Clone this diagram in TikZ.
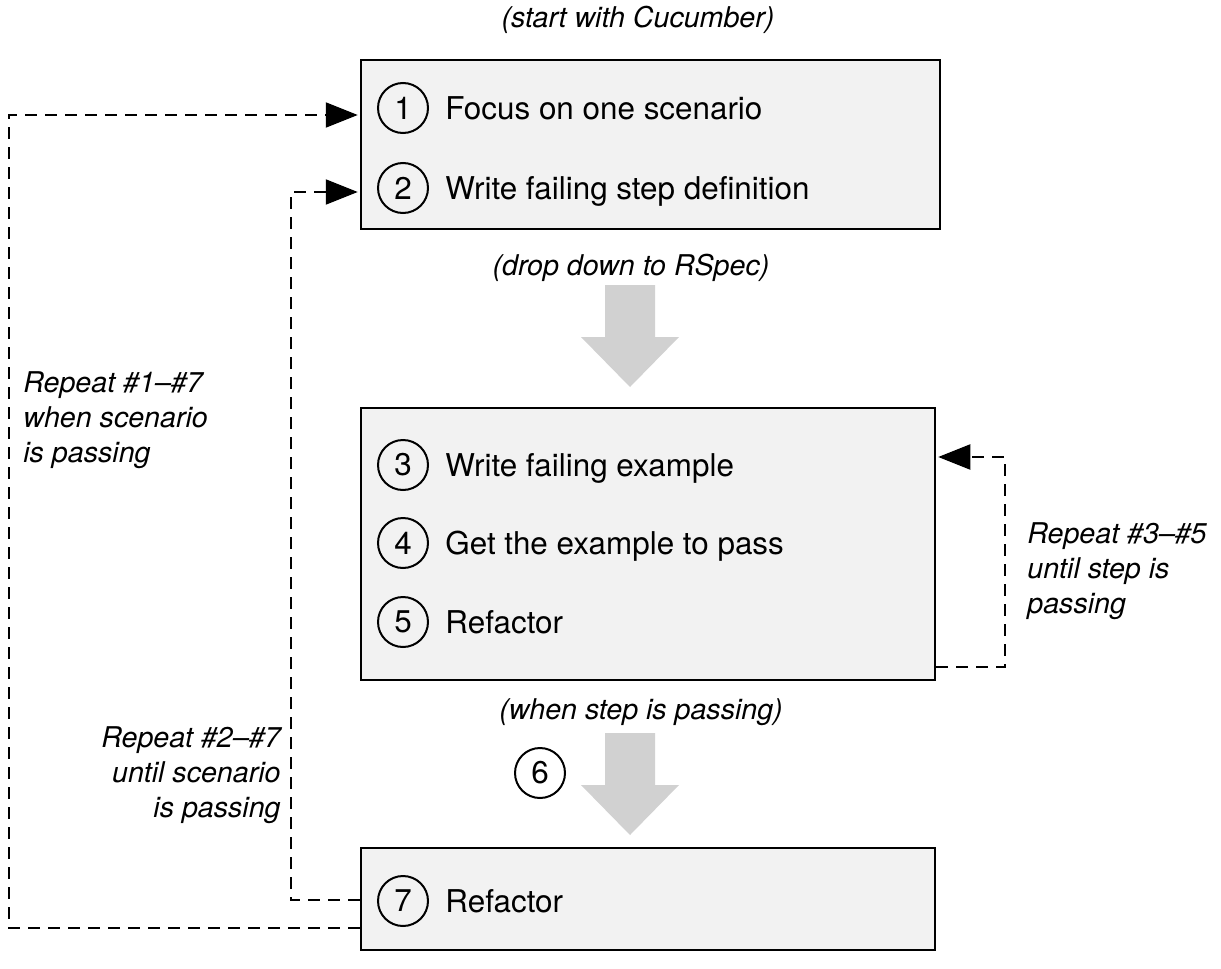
\documentclass[tikz,border=0pt]{standalone}
\usepackage{fontspec}
\setmainfont{TeX Gyre Heros}
\usetikzlibrary{positioning,calc,arrows.meta}
\tikzstyle{block} = [rectangle,draw=black,line width=1.25pt,fill=black!5,inner sep=0pt]
\tikzstyle{num} = [circle,draw=black,line width=1pt,minimum size=25pt,inner sep=0pt,font=\fontsize{15.7}{18}\selectfont]
\tikzstyle{txt} = [inner sep=0pt,text height=11.3pt,text depth=0pt,font=\fontsize{15.7}{18}\selectfont]
\tikzstyle{note} = [inner sep=0pt,font=\fontsize{14.3}{17.5}\selectfont\itshape]
\tikzstyle{loopline} = [dash pattern=on 6pt off 4pt,line width=1pt]
\tikzstyle{looparrow} = [loopline,-{Triangle[length=16pt,width=12.5pt]},shorten >=1pt]
\tikzstyle{bigarrow} = [fill=black!18]

\begin{document}
\begin{tikzpicture}[x=0.5pt,y=-0.5pt]
    \useasboundingbox (0,0) rectangle (1221,969);
    % the three boxes
    \node[block,minimum width=289.5pt,minimum height=84.5pt] (top) at (650.5,144.5) {};
    \node[block,minimum width=287pt,minimum height=136pt] (mid) at (648,544) {};
    \node[block,minimum width=287pt,minimum height=51pt] (bot) at (648,899) {};
    % steps
    \node[num] (n1) at (403,108) {1};
    \node[txt,right=8pt of n1] (t1) {Focus on one scenario};
    \node[num] (n2) at (403,188) {2};
    \node[txt,right=8pt of n2] (t2) {Write failing step definition};
    \node[num] (n3) at (403,465) {3};
    \node[txt,right=8pt of n3] (t3) {Write failing example};
    \node[num] (n4) at (403,543) {4};
    \node[txt,right=8pt of n4] (t4) {Get the example to pass};
    \node[num] (n5) at (403,622) {5};
    \node[txt,right=8pt of n5] (t5) {Refactor};
    \node[num] (n6) at (540,773) {6};
    \node[num] (n7) at (403,901) {7};
    \node[txt,right=8pt of n7] (t7) {Refactor};
    % notes
    \node[note] (start) at (638,20) {(start with Cucumber)};
    \node[note] (drop) at (631,268) {(drop down to RSpec)};
    \node[note] (when) at (641,712) {(when step is passing)};
    \node[note,anchor=west,align=left] (rep17) at (23,420) {Repeat \#1--\#7\\when scenario\\is passing};
    \node[note,anchor=east,align=right] (rep27) at (281,775) {Repeat \#2--\#7\\until scenario\\is passing};
    \node[note,anchor=west,align=left] (rep35) at (1027,571) {Repeat \#3--\#5\\until step is\\passing};
    % big grey arrows
    \foreach \ty in {285,733}
        \fill[bigarrow] (605,\ty) -- ++(50,0) -- ++(0,52) -- ++(24,0) -- ++(-49,50) -- ++(-49,-50) -- ++(24,0) -- cycle;
    % loops
    \coordinate (a1) at (9,928);
    \coordinate (a2) at (9,115);
    \draw[looparrow] (bot.west |- a1) -- (a1) -- (a2) -- (top.west |- a2);
    \coordinate (b1) at (291,900);
    \coordinate (b2) at (291,192);
    \draw[looparrow] (bot.west |- b1) -- (b1) -- (b2) -- (top.west |- b2);
    \coordinate (c1) at (1005,667);
    \coordinate (c2) at (1005,457);
    \draw[looparrow] (mid.east |- c1) -- (c1) -- (c2) -- (mid.east |- c2);
\end{tikzpicture}
\end{document}
